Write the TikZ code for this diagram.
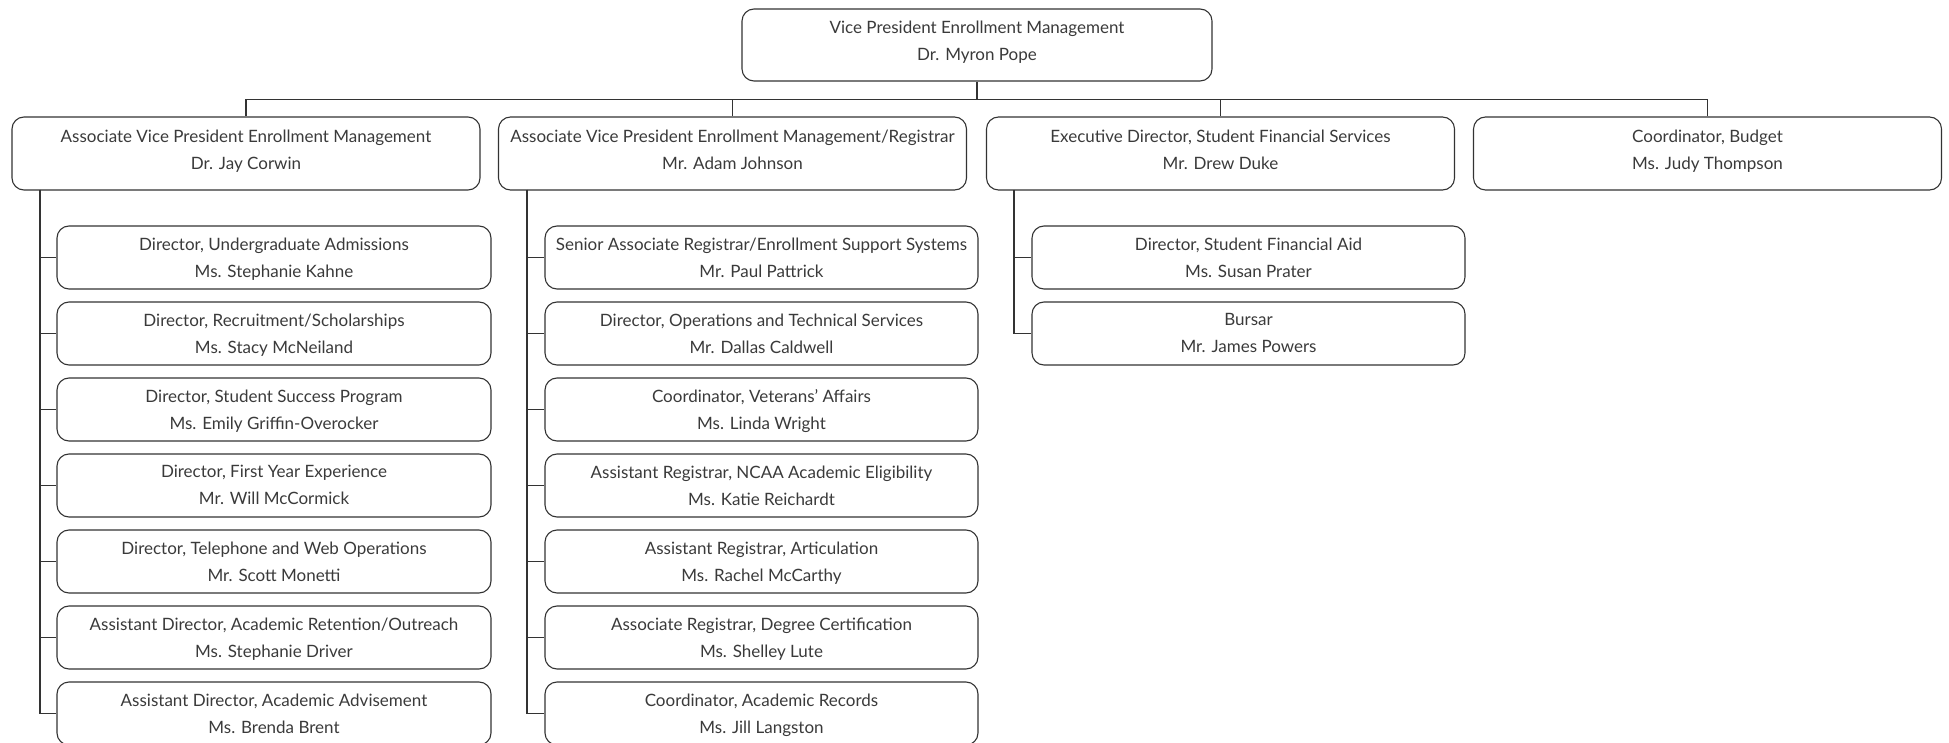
\documentclass[tikz,border=0pt]{standalone}
\usepackage{fontspec}
\setmainfont{Lato}
\definecolor{ln}{HTML}{333333}
\definecolor{tx}{HTML}{3A3A3A}
\tikzset{
  box/.style={draw=ln, line width=1.1pt, rounded corners=12pt, inner sep=0pt, align=center,
    text=tx, font=\fontsize{17}{27}\selectfont},
  topbox/.style={box, minimum width=470pt, minimum height=72pt, text depth=8pt},
  headbox/.style={box, minimum width=468pt, minimum height=73pt, text depth=8pt},
  kidbox/.style={box, minimum width=433pt, minimum height=63pt, text depth=0.5pt},
  conn/.style={draw=ln, line width=1.1pt}
}
\begin{document}
\begin{tikzpicture}[x=1pt,y=-1pt]
\useasboundingbox (0,0) rectangle (1949,743);
\node[topbox] (top) at (977,45) {Vice President Enrollment Management\\Dr. Myron Pope};

\node[headbox] (a) at (246,153.5) {Associate Vice President Enrollment Management\\Dr. Jay Corwin};
\node[headbox] (b) at (732.5,153.5) {Associate Vice President Enrollment Management/Registrar\\Mr. Adam Johnson};
\node[headbox] (c) at (1220.5,153.5) {Executive Director, Student Financial Services\\Mr. Drew Duke};
\node[headbox] (d) at (1707.5,153.5) {Coordinator, Budget\\Ms. Judy Thompson};

\coordinate (busL) at (246,99.5);
\coordinate (busR) at (1707.5,99.5);
\draw[conn] (top.south) -- (top.south |- busL);
\draw[conn] (busL) -- (busR);
\foreach \n in {a,b,c,d} \draw[conn] (\n.north) -- (\n.north |- busL);

% column A
\node[kidbox, minimum width=434pt] (a1) at (274,257.5) {Director, Undergraduate Admissions\\Ms. Stephanie Kahne};
\node[kidbox, minimum width=434pt] (a2) at (274,333.5) {Director, Recruitment/Scholarships\\Ms. Stacy McNeiland};
\node[kidbox, minimum width=434pt] (a3) at (274,409.5) {Director, Student Success Program\\Ms. Emily Griffin-Overocker};
\node[kidbox, minimum width=434pt] (a4) at (274,485.5) {Director, First Year Experience\\Mr. Will McCormick};
\node[kidbox, minimum width=434pt] (a5) at (274,561.5) {Director, Telephone and Web Operations\\Mr. Scott Monetti};
\node[kidbox, minimum width=434pt] (a6) at (274,637.5) {Assistant Director, Academic Retention/Outreach\\Ms. Stephanie Driver};
\node[kidbox, minimum width=434pt] (a7) at (274,713.5) {Assistant Director, Academic Advisement\\Ms. Brenda Brent};

% column B
\node[kidbox] (b1) at (761.5,257.5) {Senior Associate Registrar/Enrollment Support Systems\\Mr. Paul Pattrick};
\node[kidbox] (b2) at (761.5,333.5) {Director, Operations and Technical Services\\Mr. Dallas Caldwell};
\node[kidbox] (b3) at (761.5,409.5) {Coordinator, Veterans' Affairs\\Ms. Linda Wright};
\node[kidbox] (b4) at (761.5,485.5) {Assistant Registrar, NCAA Academic Eligibility\\Ms. Katie Reichardt};
\node[kidbox] (b5) at (761.5,561.5) {Assistant Registrar, Articulation\\Ms. Rachel McCarthy};
\node[kidbox] (b6) at (761.5,637.5) {Associate Registrar, Degree Certification\\Ms. Shelley Lute};
\node[kidbox] (b7) at (761.5,713.5) {Coordinator, Academic Records\\Ms. Jill Langston};

% column C
\node[kidbox] (c1) at (1248.5,257.5) {Director, Student Financial Aid\\Ms. Susan Prater};
\node[kidbox] (c2) at (1248.5,333.5) {Bursar\\Mr. James Powers};

\coordinate (sa) at (40,190);
\coordinate (sb) at (527,190);
\coordinate (sc) at (1014,190);
\foreach \i in {1,...,7} {
  \draw[conn] (sa) |- (a\i.west);
  \draw[conn] (sb) |- (b\i.west);
}
\foreach \i in {1,2} \draw[conn] (sc) |- (c\i.west);
\end{tikzpicture}
\end{document}
